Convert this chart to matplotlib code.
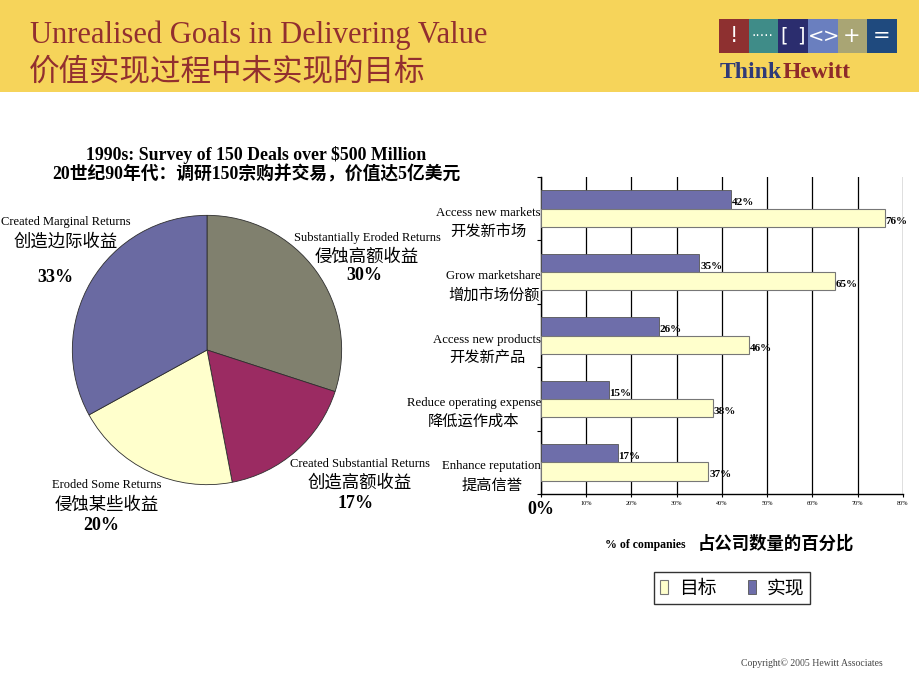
import matplotlib
matplotlib.use("Agg")
import matplotlib.pyplot as plt
from matplotlib.patches import Rectangle
import numpy as np

# ---------------- data ----------------
pie_labels_en = ["Substantially Eroded Returns", "Created Substantial Returns",
                 "Eroded Some Returns", "Created Marginal Returns"]
pie_labels_cn = ["侵蚀高额收益", "创造高额收益", "侵蚀某些收益", "创造边际收益"]
pie_values = [30, 17, 20, 33]
pie_colors = ["#80806e", "#9b2b62", "#ffffcc", "#6a6aa2"]

bar_cats_en = ["Access new markets", "Grow marketshare", "Access new products",
               "Reduce operating expense", "Enhance reputation"]
bar_cats_cn = ["开发新市场", "增加市场份额", "开发新产品", "降低运作成本", "提高信誉"]
target = [76, 65, 46, 38, 37]     # 目标
actual = [42, 35, 26, 15, 17]     # 实现
xticks = [0, 10, 20, 30, 40, 50, 60, 70, 80]
xtick_labels = ["0%", "10%", "20%", "30%", "40%", "50%", "60%", "70%", "80%"]

SERIF = ["Liberation Serif", "Noto Sans CJK SC"]
CJK = ["Noto Sans CJK SC", "DejaVu Sans"]
plt.rcParams["font.family"] = SERIF

W, H = 920, 690
fig = plt.figure(figsize=(W / 100, H / 100), dpi=100)
fig.patch.set_facecolor("white")


def P(x, y):
    return (x / W, 1 - y / H)


def ftext(x, y, s, **kw):
    fx, fy = P(x, y)
    kw.setdefault("ha", "center")
    kw.setdefault("va", "center")
    return fig.text(fx, fy, s, **kw)


# ---------------- header ----------------
fig.patches.append(Rectangle((0, 1 - 92 / H), 1, 92 / H, transform=fig.transFigure,
                             facecolor="#f6d45a", edgecolor="none", zorder=0))
title_col = "#922f2f"
ftext(30, 35, "Unrealised Goals in Delivering Value", ha="left", fontsize=22,
      color=title_col, family=SERIF)
ftext(29, 72, "价值实现过程中未实现的目标", ha="left", fontsize=22,
      color=title_col, family=CJK)

logo_cols = ["#8e3030", "#3f8c88", "#2b2d6e", "#6a7fbf", "#a9a574", "#1f4a7e"]
bx0, bw, by0, bh = 719, 29.7, 19, 34
for i, c in enumerate(logo_cols):
    fx, fy = P(bx0 + i * bw, by0 + bh)
    fig.patches.append(Rectangle((fx, fy), bw / W, bh / H, transform=fig.transFigure,
                                 facecolor=c, edgecolor="none", zorder=1))
logo_syms = [("!", 734, 15), ("·····", 762, 10), ("[", 784, 14), ("]", 801, 14),
             ("<", 816, 14), (">", 831, 14), ("+", 852, 15), ("=", 882, 15)]
for s, x, fs in logo_syms:
    ftext(x, 36, s, color="white", fontsize=fs, family=["DejaVu Sans"], zorder=2)
t1 = ftext(720, 72, "Think", ha="left", fontsize=17, fontweight="bold",
           color="#2f3a78", family=SERIF)
fig.canvas.draw()
bb = t1.get_window_extent()
fig.text(bb.x1 / W, t1.get_position()[1], "Hewitt", fontsize=17, fontweight="bold",
         color="#8e2a2a", family=SERIF, ha="left", va="center")

# ---------------- pie ----------------
cx, cy, r = 207, 350, 136
pax = fig.add_axes([(cx - r) / W, 1 - (cy + r) / H, 2 * r / W, 2 * r / H])
pax.pie(pie_values, colors=pie_colors, startangle=90, counterclock=False,
        wedgeprops=dict(edgecolor="#2e2e2e", linewidth=0.6), radius=1)
pax.set_xlim(-1.01, 1.01)
pax.set_ylim(-1.01, 1.01)
pax.set_aspect("equal")
pax.axis("off")

ftext(256, 155, "1990s: Survey of 150 Deals over $500 Million", fontsize=12.8,
      fontweight="bold", family=SERIF)
ftext(256, 174, "20世纪90年代：调研150宗购并交易，价值达5亿美元", fontsize=12.8,
      fontweight="bold", family=SERIF)

pie_label_pos = [(367, 238, 257, 276), (360, 464, 483, 504),
                 (107, 485, 505, 525), (66, 222, 242, 278)]
pie_pct_x = [364, 356, 101, 55]
for i, (x, y1, y2, y3) in enumerate(pie_label_pos):
    ftext(x, y1, pie_labels_en[i], fontsize=9, family=SERIF)
    ftext(x, y2, pie_labels_cn[i], fontsize=12.5, family=CJK)
    ftext(pie_pct_x[i], y3, f"{pie_values[i]}%", fontsize=13, fontweight="bold",
          family=SERIF)

# ---------------- bars ----------------
ax_l, ax_r, ax_t, ax_b = 541, 903, 177, 494
bax = fig.add_axes([ax_l / W, 1 - ax_b / H, (ax_r - ax_l) / W, (ax_b - ax_t) / H])
n = len(bar_cats_en)
ypos = np.arange(n)[::-1]
bh_ = 0.29
bar_blue = "#6e6eaa"
bar_yel = "#ffffcc"
ba = bax.barh(ypos + bh_ / 2, actual, height=bh_, color=bar_blue,
              edgecolor="#555555", linewidth=0.6, label="实现", zorder=3)
bt = bax.barh(ypos - bh_ / 2, target, height=bh_, color=bar_yel,
              edgecolor="#777777", linewidth=0.8, label="目标", zorder=3)
for bars, vals in ((ba, actual), (bt, target)):
    for rect, v in zip(bars, vals):
        bax.annotate(f"{v}%", xy=(rect.get_width(), rect.get_y() + rect.get_height() / 2),
                     xytext=(0.5, -2.5), textcoords="offset points", ha="left",
                     va="center", fontsize=8, fontweight="bold", family=SERIF, zorder=4)

bax.set_xlim(0, 80)
bax.set_ylim(-0.5, n - 0.5)
bax.set_xticks(xticks)
bax.set_xticklabels(xtick_labels, fontsize=4.5, family=SERIF)
lab0 = bax.get_xticklabels()[0]
lab0.set_fontsize(13)
lab0.set_fontweight("bold")
bax.set_yticks(np.arange(-0.5, n, 1.0))
bax.set_yticklabels([])
bax.tick_params(axis="y", direction="out", length=3, width=0.8)
bax.tick_params(axis="x", direction="out", length=2, width=0.8, pad=3)
bax.grid(axis="x", color="black", linewidth=0.9, zorder=0)
bax.set_axisbelow(True)
for s in ("top", "right"):
    bax.spines[s].set_visible(False)
for s in ("left", "bottom"):
    bax.spines[s].set_color("black")
    bax.spines[s].set_linewidth(1.0)

for i, y in enumerate(ypos):
    en = bax.annotate(bar_cats_en[i], xy=(0, y), xycoords=("axes fraction", "data"),
                      xytext=(0, -3), textcoords="offset points", ha="right",
                      va="center", fontsize=9.2, family=SERIF)
    bax.annotate(bar_cats_cn[i], xy=(0.5, 0), xycoords=en,
                 xytext=(0, -3), textcoords="offset points", ha="center",
                 va="top", fontsize=11, family=CJK)

ftext(645, 545, "% of companies", fontsize=8.5, fontweight="bold", family=SERIF)
ftext(776, 544, "占公司数量的百分比", fontsize=12.5, fontweight="bold", family=CJK)

leg = fig.legend(handles=[bt, ba], labels=["目标", "实现"], loc="center",
                 bbox_to_anchor=P(732, 588), ncol=2, frameon=True, fancybox=False,
                 prop=dict(family=CJK, size=13.5), handlelength=0.45,
                 handleheight=0.75, handletextpad=0.55, columnspacing=1.7,
                 borderpad=0.3, borderaxespad=0, edgecolor="black")
leg.get_frame().set_linewidth(1.0)

ftext(812, 663, "Copyright© 2005 Hewitt Associates", fontsize=7, color="#444444",
      family=SERIF)

fig.savefig("out.png", dpi=100)
